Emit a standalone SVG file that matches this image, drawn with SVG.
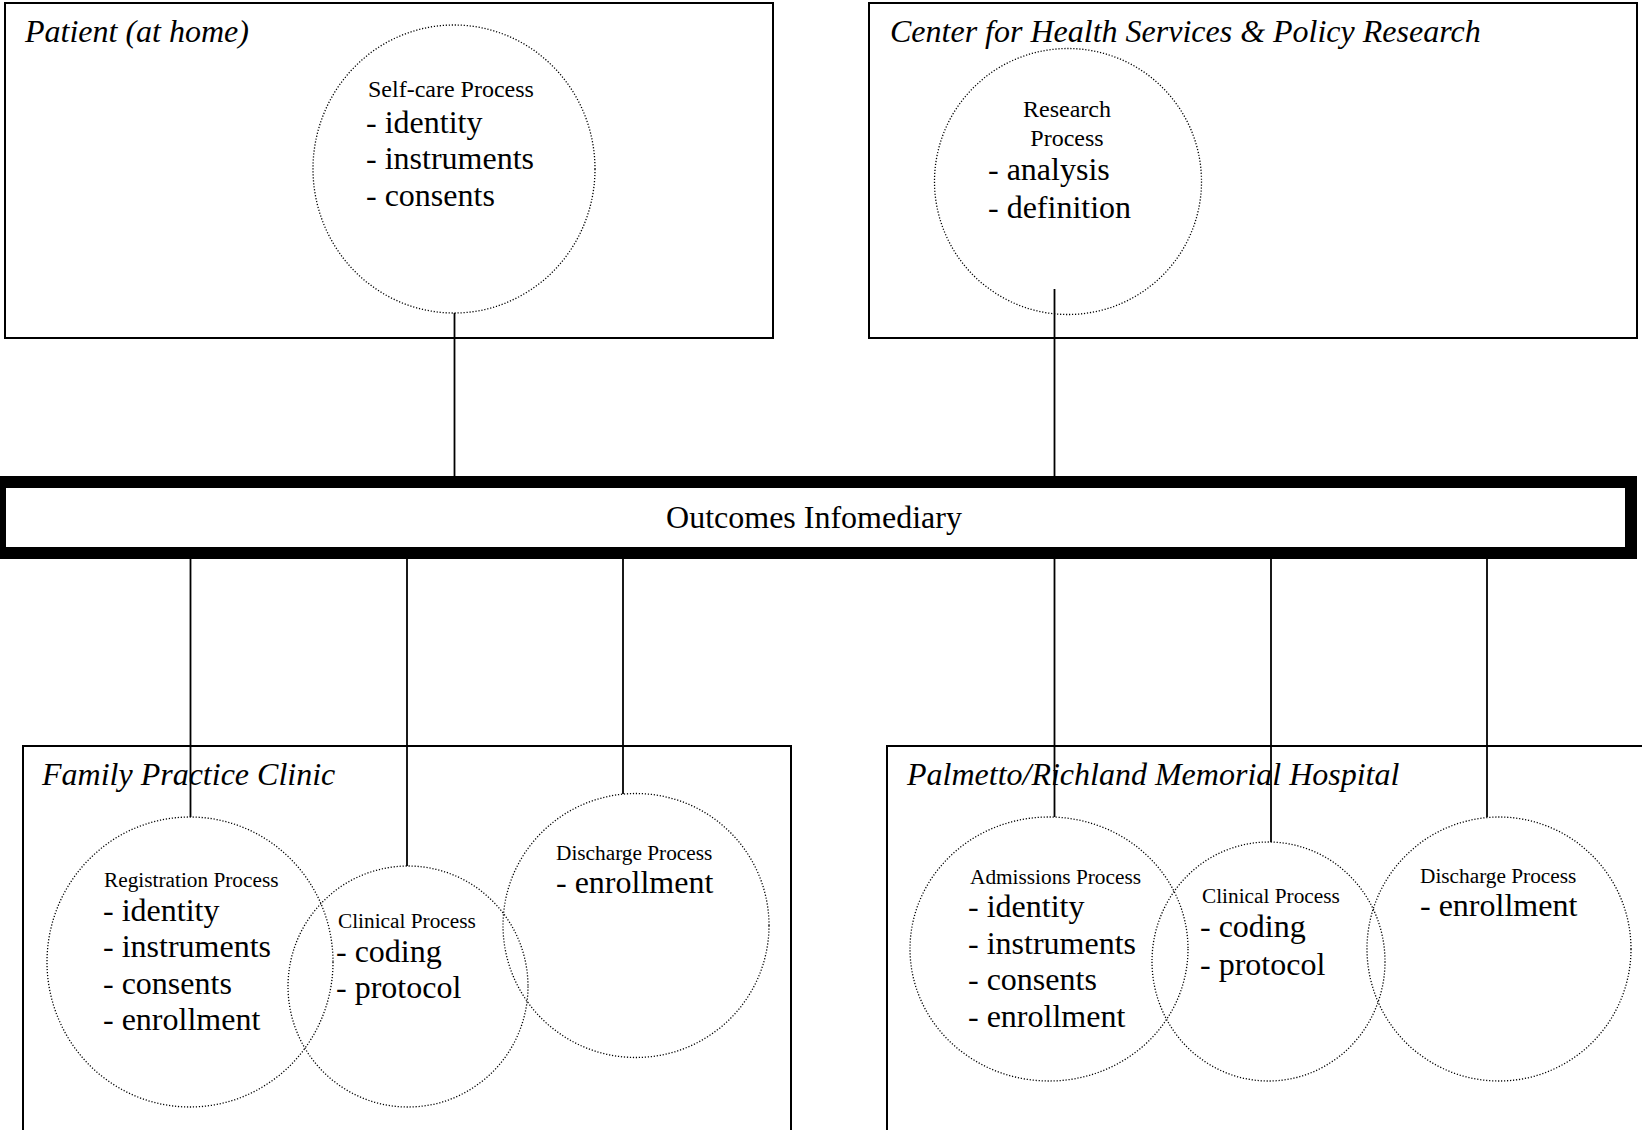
<svg xmlns="http://www.w3.org/2000/svg" width="1642" height="1130" viewBox="0 0 1642 1130">
<style>
text{font-family:"Liberation Serif","Times New Roman",serif;fill:#000}
.box{fill:none;stroke:#000;stroke-width:2}
.title{font-size:32px;font-style:italic}
.proc{fill:none;stroke:#000;stroke-width:1.3;stroke-dasharray:1.2 1.8}
.hd{font-size:21.3px}
.hdl{font-size:24px}
.it{font-size:32px}
.conn{stroke:#000;stroke-width:1.8;fill:none}
</style>
<rect width="1642" height="1130" fill="#fff"/>
<g id="patient">
<rect class="box" x="5" y="3" width="768" height="335"/>
<text class="title" x="25" y="42">Patient (at home)</text>
</g>
<g id="chspr">
<rect class="box" x="869" y="3" width="768" height="335"/>
<text class="title" x="890" y="42">Center for Health Services &amp; Policy Research</text>
</g>
<g id="fpc">
<rect class="box" x="23" y="746" width="768" height="390"/>
<text class="title" x="42" y="785">Family Practice Clinic</text>
</g>
<g id="prmh">
<rect class="box" x="887" y="746" width="770" height="390"/>
<text class="title" x="907" y="785">Palmetto/Richland Memorial Hospital</text>
</g>
<g id="selfcare">
<ellipse class="proc" cx="454" cy="169" rx="141" ry="144"/>
<text class="hdl" x="368" y="97">Self-care Process</text>
<text class="it" x="366" y="132.5">- identity</text>
<text class="it" x="366" y="169">- instruments</text>
<text class="it" x="366" y="205.5">- consents</text>
</g>
<g id="research">
<ellipse class="proc" cx="1068" cy="181.5" rx="133.5" ry="133"/>
<text class="hdl" x="1067" y="117" text-anchor="middle">Research</text>
<text class="hdl" x="1067" y="145.5" text-anchor="middle">Process</text>
<text class="it" x="988" y="180">- analysis</text>
<text class="it" x="988" y="217.5">- definition</text>
</g>
<g id="registration">
<ellipse class="proc" cx="190" cy="962" rx="143" ry="145"/>
<text class="hd" x="104" y="887">Registration Process</text>
<text class="it" x="103" y="921">- identity</text>
<text class="it" x="103" y="957">- instruments</text>
<text class="it" x="103" y="993.5">- consents</text>
<text class="it" x="103" y="1030">- enrollment</text>
</g>
<g id="clinical-fpc">
<ellipse class="proc" cx="408" cy="986.5" rx="120" ry="120.5"/>
<text class="hd" x="338" y="928">Clinical Process</text>
<text class="it" x="336" y="961.5">- coding</text>
<text class="it" x="336" y="998">- protocol</text>
</g>
<g id="discharge-fpc">
<ellipse class="proc" cx="636" cy="925.5" rx="133" ry="132"/>
<text class="hd" x="556" y="859.5">Discharge Process</text>
<text class="it" x="556" y="893">- enrollment</text>
</g>
<g id="admissions">
<ellipse class="proc" cx="1049" cy="949" rx="139" ry="132"/>
<text class="hd" x="970" y="884">Admissions Process</text>
<text class="it" x="968" y="916.5">- identity</text>
<text class="it" x="968" y="953.5">- instruments</text>
<text class="it" x="968" y="990">- consents</text>
<text class="it" x="968" y="1027">- enrollment</text>
</g>
<g id="clinical-prmh">
<ellipse class="proc" cx="1268.5" cy="961.5" rx="116.5" ry="119.5"/>
<text class="hd" x="1202" y="903">Clinical Process</text>
<text class="it" x="1200" y="937">- coding</text>
<text class="it" x="1200" y="974.5">- protocol</text>
</g>
<g id="discharge-prmh">
<ellipse class="proc" cx="1499" cy="949" rx="132" ry="132"/>
<text class="hd" x="1420" y="883">Discharge Process</text>
<text class="it" x="1420" y="916">- enrollment</text>
</g>
<g id="infomediary">
<rect x="0" y="482" width="1631" height="71" fill="#fff" stroke="#000" stroke-width="12"/>
<text x="814" y="528" font-size="32" text-anchor="middle">Outcomes Infomediary</text>
</g>
<g id="connectors">
<line class="conn" x1="454.5" y1="313" x2="454.5" y2="476"/>
<line class="conn" x1="1054.5" y1="289" x2="1054.5" y2="476"/>
<line class="conn" x1="190.5" y1="559" x2="190.5" y2="817"/>
<line class="conn" x1="407" y1="559" x2="407" y2="866"/>
<line class="conn" x1="623" y1="559" x2="623" y2="794"/>
<line class="conn" x1="1054.5" y1="559" x2="1054.5" y2="817"/>
<line class="conn" x1="1271" y1="559" x2="1271" y2="842"/>
<line class="conn" x1="1487" y1="559" x2="1487" y2="817"/>
</g>
</svg>
